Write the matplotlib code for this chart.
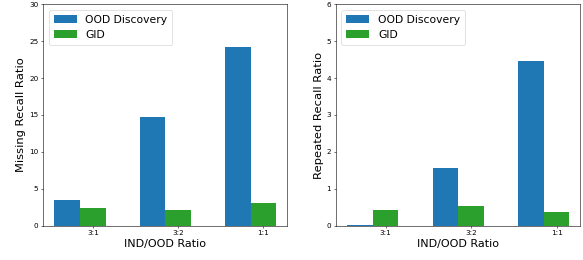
import numpy as np
import matplotlib
matplotlib.use('Agg')
import matplotlib.pyplot as plt

# data
ratios = ['3:1', '3:2', '1:1']
missing_ood = [3.47, 14.72, 24.2]
missing_gid = [2.39, 2.11, 3.06]
repeated_ood = [0.01, 1.56, 4.45]
repeated_gid = [0.42, 0.53, 0.37]

width = 0.3
x = np.arange(len(ratios))

fig = plt.figure(figsize=(11.66, 5.2), dpi=50)
ax1 = fig.add_axes([0.0743, 0.1323, 0.4185, 0.8512])
ax2 = fig.add_axes([0.5763, 0.1323, 0.4194, 0.8512])

def draw(ax, ood, gid, ylabel, ymax):
    ax.bar(x, ood, width, color='#1f77b4', label='OOD Discovery')
    ax.bar(x + width, gid, width, color='#2ca02c', label='GID')
    ax.set_xticks(x + width)
    ax.set_xticklabels(ratios)
    ax.set_ylim(0, ymax)
    ax.set_xlabel('IND/OOD Ratio', fontsize=16)
    ax.set_ylabel(ylabel, fontsize=16.5)
    ax.tick_params(labelsize=10.5)
    ax.legend(loc='upper left', fontsize=15.5, handlelength=2.15,
              handleheight=0.72, borderpad=0.45, labelspacing=0.5)

draw(ax1, missing_ood, missing_gid, 'Missing Recall Ratio', 30)
draw(ax2, repeated_ood, repeated_gid, 'Repeated Recall Ratio', 6)

fig.savefig('out.png', dpi=50)
